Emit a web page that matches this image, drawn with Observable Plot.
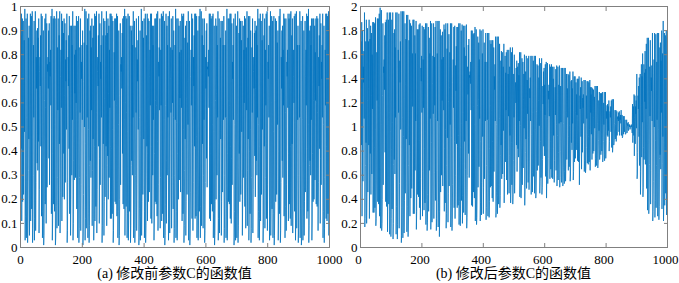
<!DOCTYPE html>
<html><head><meta charset="utf-8">
<script src="https://cdn.jsdelivr.net/npm/d3@7"></script>
<script src="https://cdn.jsdelivr.net/npm/@observablehq/plot@0.6"></script>
<style>
body{margin:0;background:#fff;}
#wrap{position:relative;width:679px;height:283px;overflow:hidden;}
.panel{position:absolute;top:0;}
#wrap svg text{font-family:"Liberation Serif","Times New Roman","DejaVu Serif",serif !important;}
.cap{position:absolute;top:267px;font-size:14px;text-align:center;line-height:14px;color:#000;font-family:"Liberation Serif","Times New Roman","Noto Sans CJK SC",serif;white-space:nowrap;}
</style></head><body>
<div id="wrap">
<div class="panel" id="pa" style="left:0"></div>
<div class="panel" id="pb" style="left:340px"></div>
<div class="cap" id="ca" style="left:20px;width:309px"></div>
<div class="cap" id="cb" style="left:360px;width:307px"></div>
</div>
<script>
const valuesA = [
.67,.88,.41,.97,.11,.39,.95,.19,.62,.94,.22,.69,.86,.48,.99,.03,.13,.45,.95,.04,.16,.54,.97,.02,.09,
.32,.87,.45,.92,.05,.18,.59,.97,.11,.40,.96,.16,.53,.98,.02,.08,.30,.84,.54,.94,.03,.12,.43,.98,.07,
.27,.79,.66,.90,.35,.91,.32,.87,.44,.95,.06,.24,.73,.79,.67,.88,.42,.97,.13,.46,.96,.04,.15,.52,.90,
.01,.05,.19,.61,.95,.18,.58,.97,.10,.37,.93,.25,.76,.73,.79,.66,.90,.37,.93,.26,.77,.71,.82,.59,.96,
.14,.49,.99,.03,.11,.39,.95,.18,.60,.96,.15,.51,.95,.01,.04,.17,.57,.98,.08,.29,.83,.57,.95,.09,.33,
.88,.43,.98,.06,.23,.71,.82,.58,.97,.11,.38,.94,.21,.66,.89,.39,.95,.20,.63,.93,.27,.78,.69,.86,.49,
.97,.02,.07,.27,.79,.67,.88,.41,.96,.14,.48,.92,.05,.20,.64,.92,.30,.84,.53,.98,.03,.10,.36,.92,.28,
.80,.64,.92,.29,.82,.60,.96,.16,.53,.94,.04,.16,.55,.96,.02,.08,.29,.83,.56,.95,.07,.26,.77,.70,.84,
.53,.90,.01,.06,.22,.69,.85,.50,.99,.03,.12,.43,.98,.08,.30,.84,.54,.95,.04,.14,.49,.97,.02,.09,.34,
.90,.36,.92,.29,.83,.57,.95,.09,.32,.87,.45,.92,.03,.12,.42,.97,.11,.40,.96,.17,.56,.98,.06,.24,.73,
.79,.67,.88,.42,.97,.10,.37,.93,.26,.77,.70,.84,.54,.98,.02,.09,.33,.88,.43,.95,.05,.19,.62,.94,.21,
.67,.88,.42,.98,.09,.34,.89,.38,.95,.20,.64,.92,.29,.82,.58,.97,.12,.42,.97,.12,.41,.96,.14,.49,.94,
.02,.07,.28,.81,.61,.95,.19,.61,.95,.18,.59,.97,.13,.45,.96,.04,.15,.51,.90,.01,.05,.20,.63,.93,.26,
.76,.73,.79,.66,.89,.39,.95,.18,.60,.96,.16,.53,.99,.05,.18,.60,.96,.17,.56,.95,.04,.14,.48,.97,.03,
.11,.40,.96,.15,.52,.92,.02,.09,.34,.90,.36,.92,.30,.84,.54,.98,.04,.16,.55,.94,.02,.08,.30,.83,.56,
.95,.07,.26,.78,.69,.86,.49,.96,.01,.04,.16,.54,.90,.03,.13,.46,.99,.05,.19,.62,.94,.22,.68,.87,.45,
.95,.04,.15,.50,.97,.02,.09,.33,.88,.42,.97,.11,.39,.95,.19,.62,.94,.23,.71,.82,.59,.97,.12,.42,.97,
.10,.36,.92,.30,.84,.53,.92,.03,.11,.39,.95,.19,.61,.95,.18,.59,.97,.13,.44,.98,.07,.26,.77,.71,.83,
.57,.95,.08,.29,.82,.59,.97,.11,.40,.96,.14,.48,.98,.04,.16,.53,.94,.01,.05,.18,.59,.97,.10,.36,.92,
.30,.84,.54,.96,.03,.12,.43,.98,.06,.23,.70,.83,.56,.95,.08,.29,.82,.60,.96,.16,.54,.90,.02,.08,.30,
.84,.53,.99,.04,.15,.52,.95,.03,.11,.39,.95,.20,.64,.92,.28,.81,.62,.94,.23,.71,.82,.58,.97,.11,.40,
.96,.14,.49,.97,.02,.09,.32,.87,.45,.92,.05,.19,.62,.94,.22,.69,.85,.51,.98,.03,.13,.45,.94,.01,.06,
.23,.71,.82,.59,.97,.12,.43,.95,.07,.27,.79,.67,.88,.42,.97,.12,.41,.97,.13,.46,.96,.04,.15,.50,.90,
.03,.11,.40,.96,.15,.52,.99,.04,.17,.57,.98,.09,.33,.88,.43,.95,.08,.30,.84,.53,.95,.02,.07,.27,.79,
.66,.90,.37,.93,.25,.75,.74,.77,.71,.82,.58,.97,.12,.42,.97,.11,.39,.95,.18,.60,.96,.15,.51,.97,.04,
.14,.48,.92,.01,.05,.19,.61,.95,.20,.64,.92,.30,.84,.54,.98,.03,.12,.43,.95,.06,.22,.68,.87,.45,.94,
.05,.19,.62,.94,.23,.70,.84,.53,.96,.02,.08,.30,.84,.54,.90,.04,.16,.54,.99,.03,.11,.39,.95,.19,.61,
.95,.18,.59,.97,.12,.42,.97,.10,.37,.93,.26,.77,.70,.84,.53,.95,.01,.04,.15,.51,.97,.03,.13,.45,.92,
.04,.16,.55,.98,.02,.09,.33,.89,.39,.95,.19,.62,.94,.22,.69,.86,.48,.94,.05,.20,.64,.92,.29,.82,.60,
.96,.17,.57,.95,.08,.29,.83,.57,.98,.09,.32,.87,.45,.96,.03,.11,.40,.96,.14,.49,.90,.02,.08,.29,.83,
.56,.95,.06,.24,.73,.79,.66,.89,.38,.94,.21,.66,.90,.36,.92,.30,.84,.54,.99,.04,.15,.51,.95,.03,.12,
.42,.97,.11,.38,.94,.22,.69,.86,.49,.97,.02,.09,.33,.88,.42,.95,.08,.29,.82,.59,.97,.12,.43,.98,.07,
.26,.77,.70,.84,.54,.92,.03,.13,.45,.98,.05,.18,.60,.96,.16,.55,.94,.04,.14,.48,.96,.01,.05,.19,.61,
.95,.19,.62,.94,.22,.69,.85,.51,.90,.03,.11,.40,.96,.14,.49,.99,.02,.07,.27,.79,.66,.90,.36,.92,.29,
.82,.59,.97,.13,.45,.95,.04,.17,.56,.95,.07,.26,.77,.71,.82,.58,.97,.11,.39,.95,.18,.59,.97,.12,.42,
.98,.09,.33,.88,.43,.95,.06,.23,.71,.82,.60,.96,.15,.52,.97,.03,.12,.43,.98,.08,.30,.84,.53,.92,.02,
.08,.30,.84,.54,.98,.04,.16,.54,.94,.01,.04,.16,.53,.96,.03,.13,.45,.90,.05,.19,.62,.94,.23,.71,.82,
.59,.97,.12,.41,.96,.15,.51,.99,.02,.09,.34,.90,.36,.92,.30,.84,.53,.95,.03,.11,.39,.95,.19,.61,.95,
.20,.64,.92,.28,.81,.61,.95,.18,.60,.96,.17,.56,.95,.07,.27,.79,.67,.88,.41,.97,.10,.37,.93,.26,.77,
.70,.84,.54,.97,.04,.15,.51,.92,.02,.08,.29,.82,.59,.97,.12,.42,.97,.11,.40,.96,.14,.48,.98,.05,.91
];
const valuesB = [
1.45,1.32,1.71,.85,1.87,.26,.76,1.80,.55,1.50,1.37,1.63,1.07,1.95,.17,.24,.68,1.71,.87,1.89,.20,.42,1.22,1.82,.46,
1.32,1.71,.85,1.89,.24,.70,1.73,.78,1.84,.44,1.26,1.78,.61,1.60,1.15,1.87,.29,.85,1.87,.29,.83,1.86,.33,.98,1.91,
.18,.24,.56,1.62,1.22,1.90,.38,1.22,1.90,.36,1.18,1.94,.26,.90,1.99,.16,.30,1.02,1.97,.14,.20,.40,1.26,1.86,.52,
1.50,1.45,1.56,1.31,1.76,.79,1.87,.38,1.19,1.89,.34,1.06,1.95,.13,.38,1.19,1.89,.36,1.12,1.95,.11,.30,.96,1.95,.09,
.24,.81,1.89,.32,1.04,1.95,.07,.20,.69,1.78,.73,1.81,.61,1.66,1.08,1.95,.11,.34,1.10,1.95,.07,.19,.61,1.64,1.12,
1.94,.16,.53,1.55,1.37,1.71,.98,1.96,.04,.10,.33,1.08,1.96,.08,.27,.92,1.96,.12,.39,1.24,1.86,.45,1.35,1.73,.90,
1.93,.13,.34,1.00,1.93,.09,.22,.68,1.72,.85,1.89,.26,.79,1.86,.41,1.23,1.84,.49,1.40,1.61,1.17,1.89,.28,.85,1.89,
.28,.75,1.76,.64,1.61,1.05,1.88,.15,.30,.80,1.81,.44,1.20,1.81,.42,1.16,1.85,.33,.89,1.86,.23,.57,1.49,1.38,1.59,
1.12,1.84,.26,.63,1.56,1.16,1.83,.31,.82,1.81,.37,.96,1.86,.19,.40,1.05,1.86,.14,.21,.44,1.16,1.83,.30,.75,1.74,
.64,1.61,1.07,1.88,.15,.32,.87,1.86,.21,.51,1.36,1.59,1.11,1.86,.24,.62,1.58,1.18,1.83,.39,1.07,1.88,.14,.24,.64,
1.61,1.05,1.88,.17,.37,1.04,1.88,.09,.30,.80,1.81,.46,1.25,1.76,.60,1.56,1.22,1.79,.51,1.38,1.58,1.14,1.85,.30,.82,
1.81,.37,.98,1.86,.16,.28,.68,1.65,.91,1.86,.21,.45,1.21,1.77,.51,1.33,1.62,1.02,1.86,.17,.35,.91,1.86,.14,.23,
.52,1.37,1.56,1.16,1.83,.33,.88,1.84,.24,.60,1.51,1.30,1.67,.86,1.83,.33,.84,1.83,.35,.93,1.86,.19,.38,1.00,1.86,
.18,.32,.83,1.80,.39,1.03,1.85,.20,.43,1.12,1.84,.29,.70,1.66,.88,1.84,.27,.65,1.59,1.05,1.85,.16,.25,.60,1.50,
1.27,1.68,.78,1.73,.58,1.43,1.41,1.46,1.36,1.54,1.14,1.80,.35,.86,1.80,.34,.81,1.77,.46,1.17,1.78,.41,1.02,1.83,.22,
.40,.97,1.81,.19,.25,.49,1.18,1.75,.50,1.23,1.70,.67,1.56,1.07,1.81,.22,.37,.88,1.80,.27,.54,1.30,1.61,.92,1.81,
.28,.50,1.19,1.70,.57,1.32,1.54,1.05,1.78,.23,.33,.68,1.54,1.06,1.78,.26,.46,1.06,1.78,.25,.38,.82,1.72,.50,1.18,
1.69,.51,1.14,1.72,.41,.88,1.72,.38,.80,1.66,.63,1.42,1.31,1.52,1.05,1.75,.25,.29,.46,1.02,1.75,.28,.43,.92,1.75,
.36,.52,1.07,1.69,.33,.43,.76,1.55,.85,1.63,.57,1.17,1.62,.61,1.27,1.50,.97,1.69,.37,.58,1.20,1.59,.71,1.45,1.14,
1.62,.56,1.09,1.64,.44,.72,1.44,1.09,1.64,.45,.76,1.50,.93,1.66,.37,.48,.87,1.62,.52,.99,1.66,.36,.44,.72,1.44,
1.08,1.60,.45,.67,1.29,1.37,1.20,1.49,.85,1.55,.63,1.20,1.50,.82,1.53,.75,1.43,1.05,1.62,.42,.56,1.01,1.62,.41,.52,
.90,1.57,.52,.85,1.54,.66,1.23,1.44,.99,1.60,.35,.50,.79,1.46,.90,1.59,.49,.74,1.39,1.11,1.57,.54,.91,1.59,.48,
.71,1.32,1.24,1.41,1.05,1.59,.44,.56,.94,1.59,.46,.62,1.12,1.55,.59,1.06,1.59,.45,.57,.98,1.59,.41,.46,.63,1.13,
1.52,.64,1.14,1.51,.68,1.22,1.41,1.01,1.57,.45,.55,.88,1.53,.58,.99,1.57,.44,.50,.73,1.34,1.19,1.46,.84,1.49,.76,
1.35,1.10,1.52,.59,.95,1.54,.41,.64,1.07,1.53,.53,.74,1.30,1.23,1.35,1.09,1.52,.57,.88,1.50,.65,1.10,1.52,.58,.91,
1.50,.57,.82,1.40,.93,1.50,.54,.72,1.22,1.33,1.10,1.48,.64,1.02,1.51,.51,.60,.93,1.50,.56,.79,1.35,1.03,1.51,.50,
.58,.80,1.34,1.04,1.49,.54,.66,1.04,1.49,.51,.54,.66,1.03,1.49,.53,.63,.95,1.49,.55,.69,1.12,1.44,.73,1.21,1.32,
1.08,1.44,.64,.92,1.43,.67,1.01,1.46,.55,.61,.85,1.38,.87,1.39,.81,1.32,1.03,1.46,.56,.63,.90,1.42,.71,1.10,1.42,
.74,1.12,1.37,.81,1.27,1.10,1.40,.72,1.09,1.40,.71,1.05,1.42,.52,.80,1.26,1.15,1.33,.92,1.41,.65,.89,1.38,.79,1.24,
1.16,1.27,1.03,1.39,.63,.72,1.01,1.39,.62,.66,.83,1.26,1.07,1.38,.70,.94,1.38,.69,.92,1.37,.71,.98,1.39,.64,1.33,
1.12,1.27,.94,1.33,.73,.92,1.32,.78,1.08,1.31,.80,1.13,1.25,.99,1.34,.67,.74,.97,1.34,.68,.76,1.03,1.34,.66,.71,
.89,1.22,.97,1.29,.73,.81,1.05,1.28,.77,.94,1.28,.80,1.02,1.29,.71,.75,.88,1.20,1.02,1.29,.72,.77,.96,1.29,.74,
.89,1.13,1.07,1.18,.93,1.19,.92,1.17,.97,1.22,.80,.88,1.11,1.13,1.08,1.17,.96,1.22,.83,.98,1.23,.79,.84,1.01,1.23,
.85,.87,.91,1.03,1.14,.90,1.02,1.14,.88,.96,1.13,.93,1.08,1.07,1.09,1.05,1.12,.96,1.13,.93,1.08,1.06,1.10,1.03,1.14,
.93,1.00,1.10,.91,.92,.98,1.09,.94,1.02,1.09,.96,1.00,1.06,.94,.94,.96,1.01,1.06,.95,.97,1.03,1.01,1.04,.97,.99,
1.02,1.00,1.02,.98,.99,1.01,1.01,1.00,1.02,.98,.95,1.19,.87,1.07,1.17,.93,1.27,.76,1.08,1.26,.86,1.17,1.11,1.22,.99,
1.44,.57,.61,.79,1.26,1.15,1.34,.92,1.41,.68,.98,1.44,.44,.63,1.17,1.52,.75,1.42,1.04,1.61,.42,.50,.83,1.52,.73,
1.45,1.21,1.63,.69,1.48,1.15,1.69,.49,1.05,1.74,.31,.49,1.08,1.74,.28,.37,.69,1.50,1.09,1.72,.36,.64,1.41,1.30,1.51,
1.05,1.78,.22,.30,.55,1.30,1.56,1.00,1.78,.25,.39,.89,1.77,.33,.68,1.54,1.06,1.78,.26,.42,.98,1.78,.23,.34,.74,
1.66,.77,1.70,.65,1.55,1.12,1.80,.32,.70,1.61,.92,1.88,.22,.37,.87,1.78,.35,.83,1.76,.45,1.10,1.80,.27,.57,1.74
];
const xTicks = [0, 200, 400, 600, 800, 1000];
const yTicksA = [0, 0.1, 0.2, 0.3, 0.4, 0.5, 0.6, 0.7, 0.8, 0.9, 1];
const yTicksB = [0, 0.2, 0.4, 0.6, 0.8, 1, 1.2, 1.4, 1.6, 1.8, 2];
const captions = ["(a) 修改前参数C的函数值", "(b) 修改后参数C的函数值"];

const lineColor = "#0072BD";
const axisGray = "#808080";

function panel(values, yDomain, yTicks, width, plotRight, labelShift) {
  const fmt = d => String(d);
  return Plot.plot({
    width, height: 266,
    marginLeft: 20, marginRight: width - plotRight, marginTop: 6, marginBottom: 19,
    style: {fontSize: "13px", background: "transparent", overflow: "visible", color: "#000"},
    x: {domain: [0, 1000]},
    y: {domain: yDomain},
    marks: [
      Plot.lineY(values, {stroke: lineColor, strokeWidth: 0.75}),
      Plot.frame({stroke: axisGray}),
      Plot.axisX({ticks: xTicks, tickSize: 0, tickPadding: 7, dx: labelShift, tickFormat: fmt, fill: "#000", label: null}),
      Plot.axisX({ticks: xTicks, tickSize: -4, tickFormat: () => "", stroke: axisGray, label: null}),
      Plot.axisX({anchor: "top", ticks: xTicks, tickSize: -4, tickFormat: () => "", stroke: axisGray, label: null}),
      Plot.axisY({ticks: yTicks, tickSize: -4, tickPadding: 7, tickFormat: fmt, stroke: axisGray, fill: "#000", label: null}),
      Plot.axisY({anchor: "right", ticks: yTicks, tickSize: -4, tickFormat: () => "", stroke: axisGray, label: null})
    ]
  });
}

document.getElementById("pa").append(panel(valuesA, [0, 1], yTicksA, 340, 329, 0));
document.getElementById("pb").append(panel(valuesB, [0, 2], yTicksB, 339, 327, -2));
document.getElementById("ca").textContent = captions[0];
document.getElementById("cb").textContent = captions[1];
</script>
</body></html>
